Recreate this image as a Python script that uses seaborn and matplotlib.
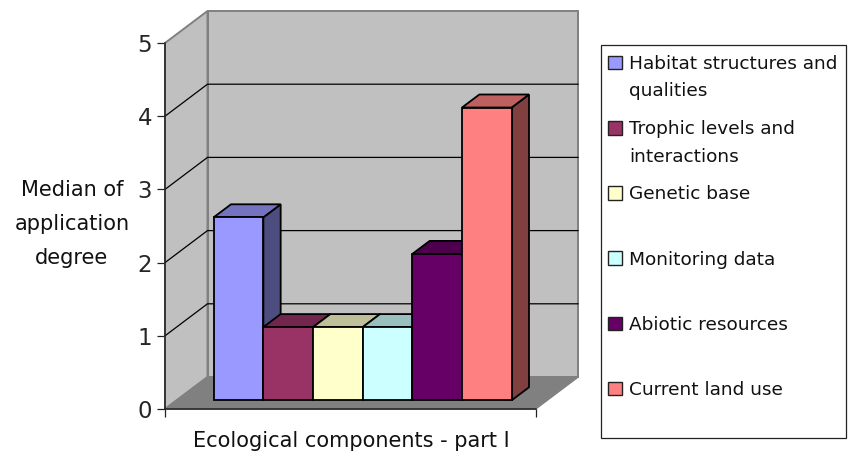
import matplotlib
matplotlib.use("Agg")
import matplotlib.pyplot as plt
from matplotlib.patches import Polygon, Patch, Rectangle
from matplotlib.colors import to_rgb
import pandas as pd
import seaborn as sns

# ---- data ----
categories = ["Habitat structures and", "Trophic levels and", "Genetic base",
              "Monitoring data", "Abiotic resources", "Current land use"]
extra_lines = {0: "qualities", 1: "interactions"}
values = [2.5, 1, 1, 1, 2, 4]
colors = ["#9999FF", "#993366", "#FFFFCC", "#CCFFFF", "#660066", "#FF8080"]
ytick_values = [0, 1, 2, 3, 4, 5]
x_title = "Ecological components - part I"
y_title = "Median of\napplication\ndegree"

W, H = 856, 455
FS = 15.0        # pt
LFS = 13.3
TFS = 16.5

sns.set_theme(style="white")
plt.rcParams["font.family"] = ["DejaVu Sans"]
plt.rcParams["text.color"] = "#111111"

fig = plt.figure(figsize=(W / 100, H / 100), dpi=100, facecolor="white")


def box(x0, y0, x1, y1):
    """pixel box (y down) -> figure fraction rect"""
    return [x0 / W, 1 - y1 / H, (x1 - x0) / W, (y1 - y0) / H]


# plot frame: front plane of the 3D box
FX0, FX1, FY0, FY5 = 165, 535.7, 409, 43
ax = fig.add_axes(box(FX0, FY5, FX1, FY0), zorder=1, facecolor="none")
ax.set_xlim(0, 1)
ax.set_ylim(0, 5)
depth_x = 42.5 / (FX1 - FX0)
depth_y = 32 / ((FY0 - FY5) / 5)

wall = "#C0C0C0"
floor = "#808080"
edge = "#808080"
ax.add_patch(Polygon([(depth_x, depth_y), (1 + depth_x, depth_y), (1 + depth_x, 5 + depth_y), (depth_x, 5 + depth_y)],
                     closed=True, fc=wall, ec=edge, lw=1.4, clip_on=False, zorder=1))
ax.add_patch(Polygon([(0, 0), (depth_x, depth_y), (depth_x, 5 + depth_y), (0, 5)],
                     closed=True, fc=wall, ec=edge, lw=1.4, clip_on=False, zorder=1))
for v in ytick_values[1:-1]:
    ax.plot([0, depth_x, 1 + depth_x], [v, v + depth_y, v + depth_y], color="black", lw=0.9,
            clip_on=False, zorder=2, solid_joinstyle="miter")
ax.add_patch(Polygon([(0, 0), (1, 0), (1 + depth_x, depth_y), (depth_x, depth_y)],
                     closed=True, fc=floor, ec=edge, lw=1.0, clip_on=False, zorder=3))

for s in ["top", "right"]:
    ax.spines[s].set_visible(False)
for s in ["left", "bottom"]:
    ax.spines[s].set_visible(True)
    ax.spines[s].set_color("#222222")
    ax.spines[s].set_linewidth(1.1)
ax.spines["left"].set_zorder(4)
ax.spines["bottom"].set_zorder(4)
ax.set_yticks(ytick_values)
ax.set_yticklabels([str(v) for v in ytick_values], fontsize=TFS)
ax.set_xticks([0, 1])
ax.set_xticklabels([])
ax.tick_params(axis="both", left=True, bottom=True, length=5.8, width=0.9, color="#222222")
ax.tick_params(axis="y", pad=3.5)

# bars, on an overlaid axes of the same box
BX0, BX1, BY0 = 213.7, 511.7, 400.3
unit_x = (BX1 - BX0) / len(values)
unit_y = (FY0 - FY5) / 5
bax = fig.add_axes(box(FX0, FY5, FX1, FY0), zorder=2, facecolor="none")
bax.set_axis_off()
df = pd.DataFrame({"component": categories, "value": values})
sns.barplot(data=df, x="component", y="value", hue="component", hue_order=categories,
            palette=colors, dodge=False, width=1.0, edgecolor="black", linewidth=1.3,
            saturation=1, legend=False, ax=bax, zorder=6)
bax.set_xlim(-0.5 + (FX0 - BX0) / unit_x, -0.5 + (FX1 - BX0) / unit_x)
bax.set_ylim((BY0 - FY0) / unit_y, (BY0 - FY5) / unit_y)
bax.set_axis_off()

dx = 17.3 / unit_x
dy = 13 / unit_y


def shade(col, f):
    return tuple(c * f for c in to_rgb(col))


for i, (v, c) in enumerate(zip(values, colors)):
    l, r = i - 0.5, i + 0.5
    bax.add_patch(Polygon([(r, 0), (r + dx, dy), (r + dx, v + dy), (r, v)], closed=True,
                          fc=shade(c, 0.5), ec="black", lw=1.3, clip_on=False, zorder=4,
                          joinstyle="miter"))
    bax.add_patch(Polygon([(l, v), (r, v), (r + dx, v + dy), (l + dx, v + dy)], closed=True,
                          fc=shade(c, 0.75), ec="black", lw=1.3, clip_on=False, zorder=4,
                          joinstyle="miter"))

# titles
fig.text(351 / W, 1 - 441 / H, x_title, ha="center", va="center", fontsize=FS)
fig.text(72 / W, 1 - 224 / H, y_title, ha="center", va="center", fontsize=FS, linespacing=1.87)

# legend
fig.add_artist(Rectangle((600.5 / W, 1 - 437.5 / H), 245.5 / W, 393 / H, transform=fig.transFigure,
                         fc="white", ec="#222222", lw=0.9))
fs_px = LFS * 100 / 72
handles = [Patch(facecolor=c, edgecolor="#222222", linewidth=1.0) for c in colors]
leg = fig.legend(handles, categories, loc="upper left", bbox_to_anchor=(608 / W, 1 - 55 / H),
                 bbox_transform=fig.transFigure, frameon=False, fontsize=LFS, borderpad=0,
                 borderaxespad=0, handlelength=14 / fs_px, handleheight=14 / fs_px,
                 handletextpad=7 / fs_px, labelspacing=(65 - 17.8) / fs_px)
leg.set_zorder(5)
for i, t in extra_lines.items():
    fig.text(629 / W, 1 - (91.5 + 65 * i) / H, t, ha="left", va="center", fontsize=LFS, zorder=6)

fig.savefig("out.png", dpi=100)
